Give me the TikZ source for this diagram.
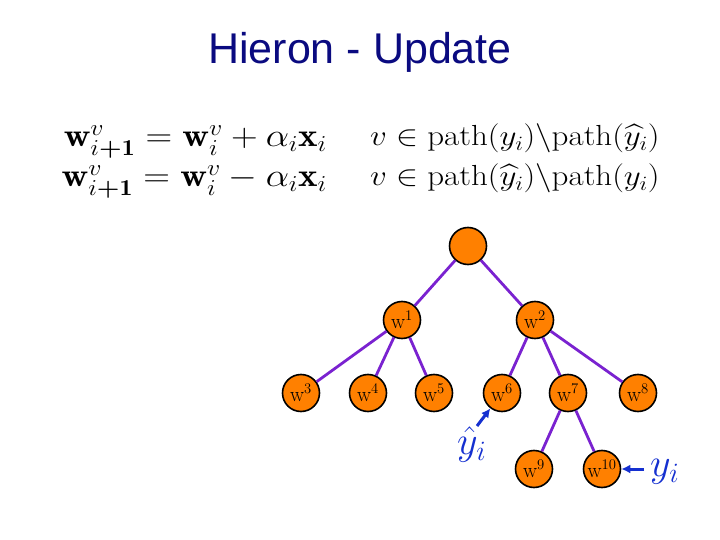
\RequirePackage{fix-cm}
\documentclass[tikz,border=0pt]{standalone}
\usepackage{amsmath,amssymb,graphicx}
\usepackage{fontspec}
\newfontfamily\titlefont{Liberation Sans}
\usetikzlibrary{arrows.meta}
\definecolor{navy}{HTML}{0A0A80}
\definecolor{edgepurple}{HTML}{7A22D0}
\definecolor{nodeorange}{HTML}{FF8000}
\definecolor{arrowblue}{HTML}{1530D0}
\newcommand{\squash}[1]{\scalebox{1}[0.88]{#1}}
\begin{document}
\begin{tikzpicture}[x=1pt,y=-1pt,
  tnode/.style={circle,draw=black,line width=1.6pt,fill=nodeorange,minimum size=37pt,inner sep=0pt,font=\fontsize{21}{21}\selectfont},
  tedge/.style={draw=edgepurple,line width=2.8pt},
  ptr/.style={draw=arrowblue,line width=3pt,-{Latex[length=9pt,width=9pt]}},
  lbl/.style={text=arrowblue,inner sep=0pt,font=\fontsize{40}{40}\selectfont},
  eqleft/.style={inner sep=0pt,anchor=base east,font=\fontsize{37}{37}\selectfont},
  eqright/.style={inner sep=0pt,anchor=base west,font=\fontsize{33}{33}\selectfont}]
\useasboundingbox (0,0) rectangle (720,540);
\node[text=navy,font=\titlefont\fontsize{43}{43}\selectfont] (title) at (360,52) {Hieron - Update};
\node[eqleft] (e1) at (327,147) {\squash{$\mathbf{w}^{v}_{i\boldsymbol{+}\mathbf{1}} = \mathbf{w}^{v}_{i} + \alpha_i\mathbf{x}_i$}};
\node[eqleft] (e2) at (327,187) {\squash{$\mathbf{w}^{v}_{i\boldsymbol{+}\mathbf{1}} = \mathbf{w}^{v}_{i} - \alpha_i\mathbf{x}_i$}};
\node[eqright] (c1) at (370,146) {\squash{$v\in\mathrm{path}(y_i)\backslash\mathrm{path}(\widehat{y}_i)$}};
\node[eqright] (c2) at (370,186) {\squash{$v\in\mathrm{path}(\widehat{y}_i)\backslash\mathrm{path}(y_i)$}};
\node[tnode] (r) at (468,246) {};
\node[tnode] (w1) at (402,320) {w$^{1}$};
\node[tnode] (w2) at (535,320) {w$^{2}$};
\node[tnode] (w3) at (301,393) {w$^{3}$};
\node[tnode] (w4) at (368,393) {w$^{4}$};
\node[tnode] (w5) at (434,393) {w$^{5}$};
\node[tnode] (w6) at (502,393) {w$^{6}$};
\node[tnode] (w7) at (568,393) {w$^{7}$};
\node[tnode] (w8) at (638,393) {w$^{8}$};
\node[tnode] (w9) at (534,469) {w$^{9}$};
\node[tnode] (w10) at (602,469) {w$^{10}$};
\foreach \a/\b in {r/w1,r/w2,w1/w3,w1/w4,w1/w5,w2/w6,w2/w7,w2/w8,w7/w9,w7/w10}
  \draw[tedge] (\a) -- (\b);
\node[lbl,anchor=base west] (yhat) at (457,454) {$\hat{y}_i$};
\node[lbl,anchor=base west] (y) at (650,476) {$y_i$};
\coordinate (yhs) at (477,426);
\coordinate (ys) at (644,469);
\draw[ptr] (yhs) -- (w6);
\draw[ptr] (ys) -- (w10);
\end{tikzpicture}
\end{document}
